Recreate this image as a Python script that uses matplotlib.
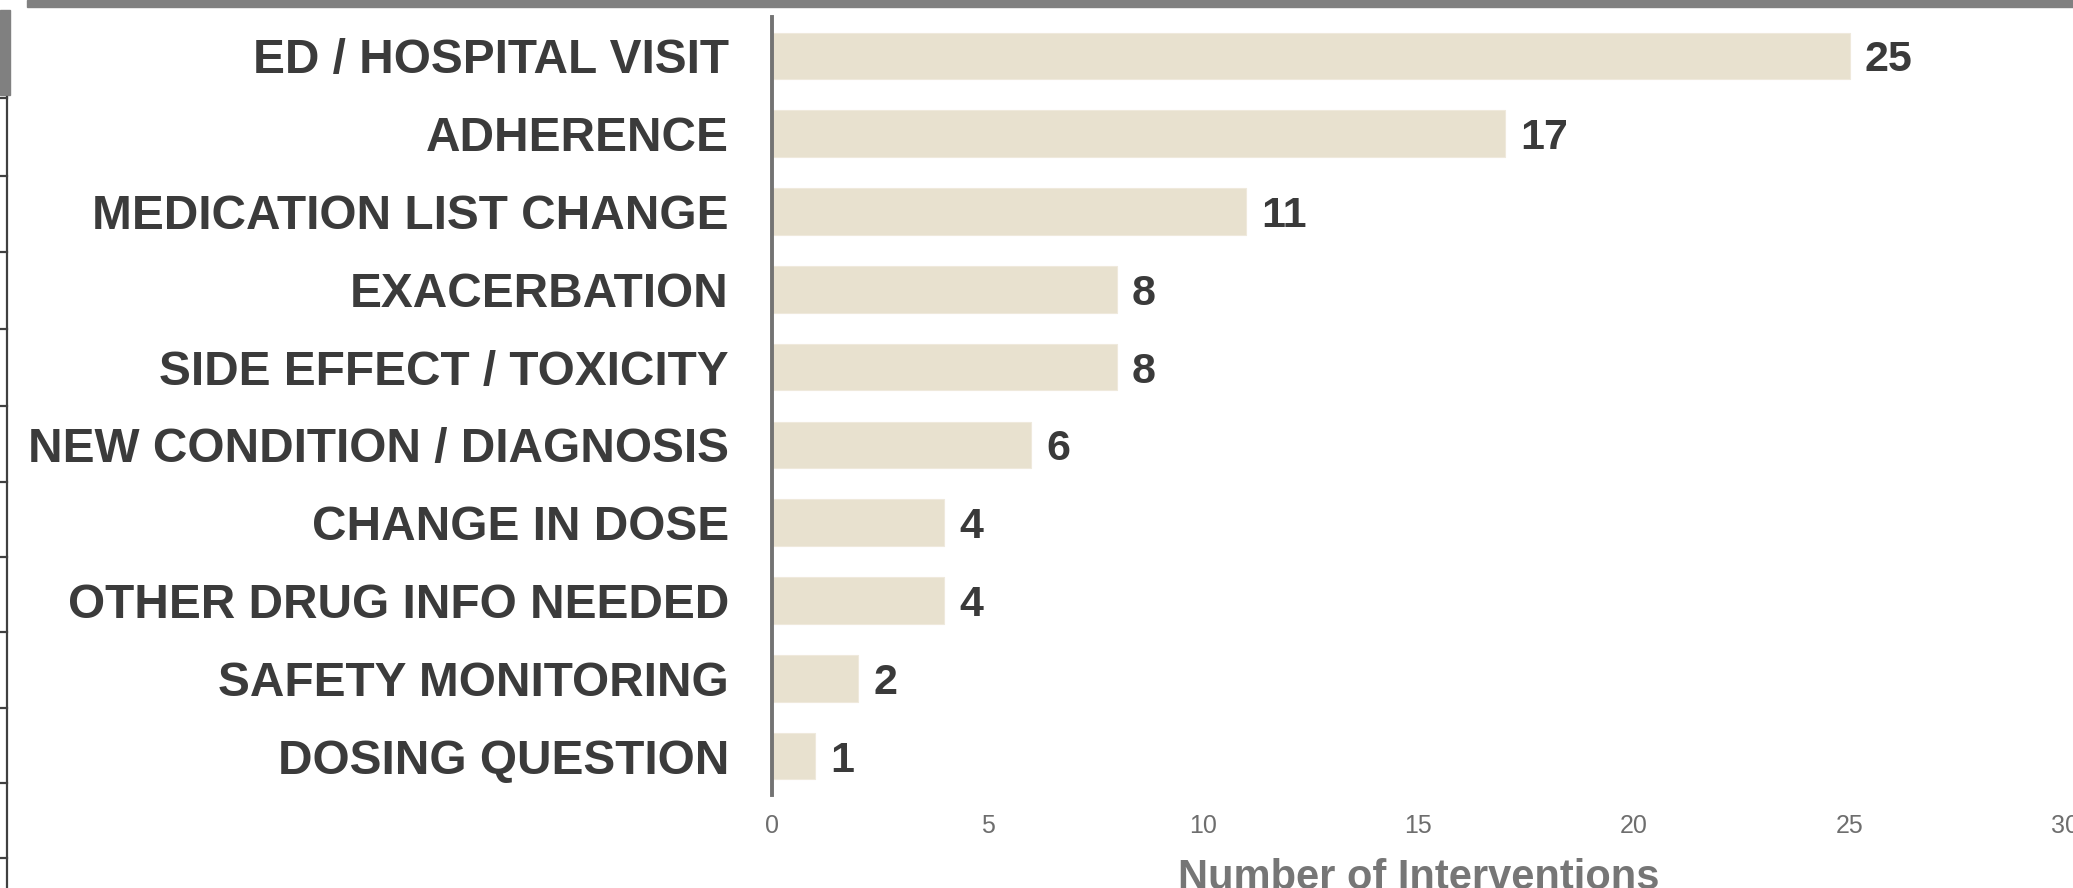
import matplotlib
matplotlib.use("Agg")
import matplotlib.pyplot as plt
from matplotlib.lines import Line2D
from matplotlib.patches import Rectangle

plt.rcParams['font.family'] = ['Liberation Sans', 'DejaVu Sans']

# intervention categories, top to bottom
categories = [
    "ED / HOSPITAL VISIT",
    "ADHERENCE",
    "MEDICATION LIST CHANGE",
    "EXACERBATION",
    "SIDE EFFECT / TOXICITY",
    "NEW CONDITION / DIAGNOSIS",
    "CHANGE IN DOSE",
    "OTHER DRUG INFO NEEDED",
    "SAFETY MONITORING",
    "DOSING QUESTION",
]
counts = [25, 17, 11, 8, 8, 6, 4, 4, 2, 1]
x_ticks = [0, 5, 10, 15, 20, 25, 30]

W, H, DPI = 2073, 888, 100
fig = plt.figure(figsize=(W / DPI, H / DPI), dpi=DPI)
fig.patch.set_facecolor("white")

# page chrome around the chart
fig.patches.append(Rectangle((27 / W, 1 - 7 / H), 1 - 27 / W, 7 / H,
                             transform=fig.transFigure, color="#808080", zorder=0))
fig.patches.append(Rectangle((0, 1 - 95 / H), 10 / W, 85 / H,
                             transform=fig.transFigure, color="#808080", zorder=0))
fig.lines.append(Line2D([7 / W, 7 / W], [0, 1 - 97 / H], transform=fig.transFigure,
                        color="#404040", lw=1.6))
for yy in [98, 176, 252, 329, 406, 482, 557, 632, 708, 783, 858]:
    fig.lines.append(Line2D([0, 7 / W], [1 - yy / H, 1 - yy / H],
                            transform=fig.transFigure, color="#404040", lw=1.6))

ax = fig.add_axes([772 / W, 1 - 795 / H, (2065 - 772) / W, (795 - 17) / H])

ypos = list(range(len(categories)))
bars = ax.barh(ypos, counts, height=0.6, color="#e8e1cf", edgecolor="#efe9dc",
               linewidth=0.8, zorder=2)

for y, v in zip(ypos, counts):
    ax.annotate(str(v), xy=(v, y), xytext=(11, 0), textcoords="offset points",
                ha="left", va="center_baseline", fontsize=31, fontweight="bold",
                color="#3a3a3a")

ax.set_xlim(0, 30)
ax.set_ylim(len(categories) - 0.5, -0.5)
ax.set_yticks(ypos)
ax.set_yticklabels(categories, fontsize=34.4, fontweight="bold", color="#3b3b3b")
ax.set_xticks(x_ticks)
ax.set_xticklabels([str(t) for t in x_ticks], fontsize=18, color="#6e6e6e")
ax.tick_params(axis="y", length=0, pad=31)
ax.tick_params(axis="x", length=0, pad=14)

for side in ["top", "right", "bottom"]:
    ax.spines[side].set_visible(False)
ax.spines["left"].set_color("#737373")
ax.spines["left"].set_linewidth(2.8)

ax.set_xlabel("Number of Interventions", fontsize=30, fontweight="bold",
              color="#767676", labelpad=14)

fig.savefig("out.png", dpi=DPI)
